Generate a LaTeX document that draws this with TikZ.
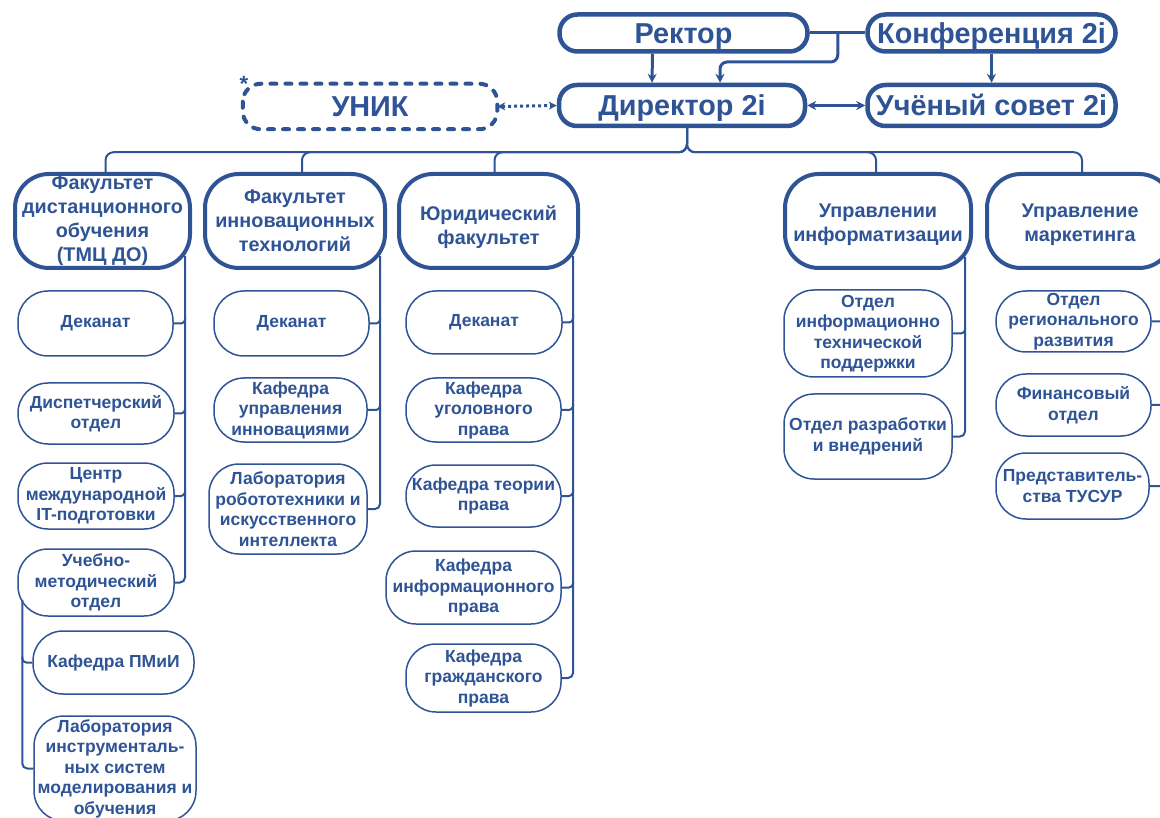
\documentclass[tikz,border=0pt]{standalone}
\usepackage{fontspec}
\setmainfont{Liberation Sans}
\usetikzlibrary{arrows.meta}
\definecolor{tblue}{RGB}{47,84,150}

\begin{document}
\begin{tikzpicture}[x=1pt, y=-1pt,
  box/.style={draw=tblue, text=tblue, fill=white, align=center, inner sep=0pt},
  topbox/.style={box, line width=4.5pt, rounded corners=18pt, minimum width=248pt, minimum height=37pt, text height=20.6pt, text depth=0pt, font=\fontsize{28.8}{32}\selectfont\bfseries},
  facbox/.style={box, line width=4pt, rounded corners=34pt, minimum height=94pt, font=\fontsize{19.8}{24}\selectfont\bfseries},
  subbox/.style={box, line width=1.5pt, rounded corners=30pt, font=\fontsize{17.5}{20.5}\selectfont\bfseries},
  link/.style={draw=tblue, line width=2pt},
  hook/.style={link, rounded corners=4pt},
  arr/.style={draw=tblue, line width=3pt, -{Stealth[length=9pt,width=9pt]}},
  dotarr/.style={draw=tblue, line width=3pt, dash pattern=on 3pt off 3pt, {Stealth[length=8pt,width=8pt]}-{Stealth[length=8pt,width=8pt]}},
]

\newcommand\FacUp[1]{\rule{0pt}{#1}}

\useasboundingbox (0,0) rectangle (1160,818);

%% top level
\node[topbox] (rektor) at (683.5,33) {Ректор};
\node[topbox] (konf) at (991.5,33) {Конференция 2i};
\node[topbox, minimum width=246pt, minimum height=41pt] (dir) at (682,105.5) {Директор 2i};
\node[topbox, minimum height=41pt] (sovet) at (991.5,105.5) {Учёный совет 2i};
\node[topbox, draw=none, minimum width=250pt, minimum height=41pt] (unik) at (370,106.5) {УНИК};
\draw[draw=tblue, line width=4pt, rounded corners=18pt, dash pattern=on 6pt off 9pt, line cap=round]
  (unik.north west) rectangle (unik.south east);
\node[text=tblue, font=\fontsize{22}{22}\selectfont\bfseries] (star) at (244,84) {*};

\draw[link, line width=3pt] (rektor.east) -- (konf.west);
\draw[arr, rounded corners=7pt] ([xshift=28pt]rektor.east) -- ++(0,29) -| ([xshift=38pt]dir.north);
\draw[arr] ([xshift=-31pt]rektor.south) -- ([xshift=-30pt]dir.north);
\draw[arr] (konf.south) -- (sovet.north);
\draw[arr, {Stealth[length=9pt,width=9pt]}-{Stealth[length=9pt,width=9pt]}] (dir.east) -- (sovet.west);
\draw[dotarr] (unik.east) -- (dir.west);

%% faculties
\node[facbox, minimum width=175pt] (fdo) at (102.5,221) {Факультет\\дистанционного\\обучения\\(ТМЦ ДО)};
\node[facbox, minimum width=180pt] (fit) at (295,221) {Факультет\\инновационных\\технологий};
\node[facbox, minimum width=179pt] (yur) at (488.5,221) {\FacUp{28pt}Юридический\\факультет};
\node[facbox, minimum width=186pt] (upi) at (878,221) {\FacUp{22pt}Управлении\\информатизации};
\node[facbox, minimum width=186pt] (upm) at (1080,221) {\FacUp{22pt}Управление\\маркетинга};

\draw[link, rounded corners=8pt] ([xshift=5pt]dir.south) -- ++(0,24) -| ([xshift=3pt]fdo.north);
\draw[link, rounded corners=8pt] ([xshift=5pt]dir.south) -- ++(0,24) -| ([xshift=7pt]fit.north);
\draw[link, rounded corners=8pt] ([xshift=5pt]dir.south) -- ++(0,24) -| ([xshift=6pt]yur.north);
\draw[link, rounded corners=8pt] ([xshift=5pt]dir.south) -- ++(0,24) -| ([xshift=-2pt]upi.north);
\draw[link, rounded corners=8pt] ([xshift=5pt]dir.south) -- ++(0,24) -| ([xshift=2pt]upm.north);

%% ТМЦ ДО
\node[subbox, minimum width=155pt, minimum height=65pt] (fdoA) at (95.5,323.5) {Деканат};
\node[subbox, minimum width=156pt, minimum height=61pt] (fdoB) at (96,413.5) {Диспетчерский\\отдел};
\node[subbox, minimum width=156pt, minimum height=66pt] (fdoC) at (96,496) {Центр\\международной\\IT-подготовки};
\node[subbox, minimum width=156pt, minimum height=67pt] (fdoD) at (96,582.5) {Учебно-\\методический\\отдел};
\node[subbox, minimum width=161pt, minimum height=63pt] (fdoE) at (113.5,662.5) {Кафедра ПМиИ};
\node[subbox, minimum width=162pt, minimum height=105pt] (fdoF) at (115,768.5) {Лаборатория\\инструменталь-\\ных систем\\моделирования и\\обучения};

\coordinate (fdoTop) at ([xshift=-7pt,yshift=14pt]fdo.south east);
\coordinate (fdoSub) at ([xshift=5pt,yshift=17pt]fdoD.south west);
\draw[link, rounded corners=5pt] (fdoTop) |- (fdoD.east);
\draw[hook] (fdoA.east) -| ([yshift=6pt]fdoA.east -| fdoTop);
\draw[hook] (fdoB.east) -| ([yshift=6pt]fdoB.east -| fdoTop);
\draw[hook] (fdoC.east) -| ([yshift=6pt]fdoC.east -| fdoTop);
\draw[link, rounded corners=5pt] (fdoSub) |- (fdoF.west);
\draw[hook] (fdoE.west) -| ([yshift=6pt]fdoE.west -| fdoSub);

%% ФИТ
\node[subbox, minimum width=155pt, minimum height=65pt] (fitA) at (291.5,323.5) {Деканат};
\node[subbox, minimum width=153pt, minimum height=64pt] (fitB) at (290.5,410) {Кафедра\\управления\\инновациями};
\node[subbox, minimum width=158pt, minimum height=90pt] (fitC) at (288,509) {Лаборатория\\робототехники и\\искусственного\\интеллекта};

\coordinate (fitTop) at ([xshift=-7pt,yshift=14pt]fit.south east);
\draw[link, rounded corners=5pt] (fitTop) |- (fitC.east);
\draw[hook] (fitA.east) -| ([yshift=6pt]fitA.east -| fitTop);
\draw[hook] (fitB.east) -| ([yshift=6pt]fitB.east -| fitTop);

%% ЮФ
\node[subbox, minimum width=156pt, minimum height=63pt] (yurA) at (484,322.5) {Деканат};
\node[subbox, minimum width=155pt, minimum height=64pt] (yurB) at (483.5,410) {Кафедра\\уголовного\\права};
\node[subbox, minimum width=155pt, minimum height=62pt] (yurC) at (483.5,496) {Кафедра теории\\права};
\node[subbox, minimum width=175pt, minimum height=73pt] (yurD) at (473.5,587.5) {Кафедра\\информационного\\права};
\node[subbox, minimum width=155pt, minimum height=68pt] (yurE) at (483.5,678) {Кафедра\\гражданского\\права};

\coordinate (yurTop) at ([xshift=-7pt,yshift=14pt]yur.south east);
\draw[link, rounded corners=5pt] (yurTop) |- (yurE.east);
\draw[hook] (yurA.east) -| ([yshift=6pt]yurA.east -| yurTop);
\draw[hook] (yurB.east) -| ([yshift=6pt]yurB.east -| yurTop);
\draw[hook] (yurC.east) -| ([yshift=6pt]yurC.east -| yurTop);
\draw[hook] (yurD.east) -| ([yshift=6pt]yurD.east -| yurTop);

%% УИ
\node[subbox, minimum width=168pt, minimum height=87pt] (upiA) at (868,333.5) {Отдел\\информационно\\технической\\поддержки};
\node[subbox, minimum width=168pt, minimum height=85pt] (upiB) at (868,436.5) {Отдел разработки\\и внедрений};

\coordinate (upiTop) at ([xshift=-8pt,yshift=13pt]upi.south east);
\draw[link, rounded corners=5pt] (upiTop) |- (upiB.east);
\draw[hook] (upiA.east) -| ([yshift=6pt]upiA.east -| upiTop);

%% УМ
\node[subbox, minimum width=155pt, minimum height=61pt] (upmA) at (1073.5,321.5) {Отдел\\регионального\\развития};
\node[subbox, minimum width=155pt, minimum height=62pt] (upmB) at (1073.5,405) {Финансовый\\отдел};
\node[subbox, minimum width=153pt, minimum height=66pt] (upmC) at (1072.5,486) {Представитель-\\ства ТУСУР};

\coordinate (upmTop) at ([xshift=-7pt,yshift=14pt]upm.south east);
\draw[link, rounded corners=5pt] (upmTop) |- (upmC.east);
\draw[hook] (upmA.east) -| ([yshift=6pt]upmA.east -| upmTop);
\draw[hook] (upmB.east) -| ([yshift=6pt]upmB.east -| upmTop);

\end{tikzpicture}
\end{document}
